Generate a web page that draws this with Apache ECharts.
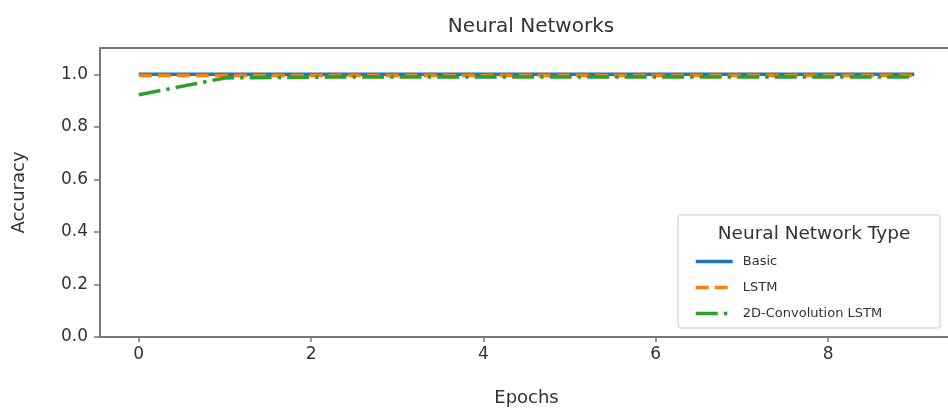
<!DOCTYPE html>
<html>
<head>
<meta charset="utf-8">
<script src="https://cdn.jsdelivr.net/npm/echarts@6/dist/echarts.min.js"></script>
<style>
  html, body { margin: 0; padding: 0; background: #fff; }
  #chart { width: 948px; height: 416px; }
</style>
</head>
<body>
<div id="chart"></div>
<script>
// data
const epochs = [0, 1, 2, 3, 4, 5, 6, 7, 8, 9];
const basicAcc = [1.0, 1.0, 1.0, 1.0, 1.0, 1.0, 1.0, 1.0, 1.0, 1.0];
const lstmAcc = [0.995, 0.995, 0.995, 0.995, 0.995, 0.995, 0.995, 0.995, 0.995, 0.995];
const convLstmAcc = [0.922, 0.986, 0.989, 0.99, 0.99, 0.99, 0.99, 0.99, 0.99, 0.99];
const xTicks = [0, 2, 4, 6, 8];
const yTicks = [0, 0.2, 0.4, 0.6, 0.8, 1.0];

const font = "DejaVu Sans";
const axisColor = "#777";
const textColor = "#333";

const chart = echarts.init(document.getElementById("chart"));

function toPairs(ys) {
  return epochs.map((x, i) => [x, ys[i]]);
}

const option = {
  animation: false,
  backgroundColor: "#fff",
  title: [
    {
      text: "Neural Networks",
      left: 526,
      top: 12,
      textAlign: "center",
      textStyle: { fontFamily: font, fontSize: 20, fontWeight: "normal", color: textColor },
    },
    {
      text: "Neural Network Type",
      left: 809,
      top: 220,
      textAlign: "center",
      textStyle: { fontFamily: font, fontSize: 18.5, fontWeight: "normal", color: textColor },
    },
  ],
  graphic: [
    {
      type: "rect",
      shape: { x: 678, y: 215, width: 262, height: 113, r: 3 },
      style: { fill: "rgba(255,255,255,0.85)", stroke: "#ddd", lineWidth: 1.5 },
      z: 5,
    },
  ],
  legend: {
    orient: "vertical",
    left: 689,
    top: 250,
    itemGap: 13,
    itemWidth: 37,
    itemHeight: 14,
    z: 10,
    itemStyle: { opacity: 0 },
    lineStyle: { width: 3.5 },
    textStyle: { fontFamily: font, fontSize: 13, color: textColor, padding: [0, 0, 0, 5] },
    data: ["Basic", "LSTM", "2D-Convolution LSTM"],
  },
  grid: {
    left: 100, top: 48, width: 853, bottom: 79,
    outerBoundsMode: "none",
    show: false,
  },
  xAxis: [
    {
      type: "value",
      min: -0.45,
      max: 9.45,
      name: "Epochs",
      nameLocation: "middle",
      nameGap: 52,
      nameTextStyle: { fontFamily: font, fontSize: 18, color: textColor },
      axisLine: { show: true, onZero: false, lineStyle: { color: axisColor, width: 2 } },
      axisTick: { show: true, length: 5, lineStyle: { color: axisColor, width: 1.5 }, customValues: xTicks },
      axisLabel: { fontFamily: font, fontSize: 17, color: textColor, margin: 9, customValues: xTicks },
      splitLine: { show: false },
    },
    {
      // top spine only
      type: "value",
      position: "top",
      min: -0.45,
      max: 9.45,
      axisLine: { show: true, onZero: false, lineStyle: { color: axisColor, width: 2 } },
      axisTick: { show: false },
      axisLabel: { show: false },
      splitLine: { show: false },
    },
  ],
  yAxis: {
    type: "value",
    min: 0,
    max: 1.1,
    name: "Accuracy",
    nameLocation: "middle",
    nameGap: 72,
    nameTextStyle: { fontFamily: font, fontSize: 18, color: textColor },
    axisLine: { show: true, onZero: false, lineStyle: { color: axisColor, width: 2 } },
    axisTick: { show: true, length: 6, lineStyle: { color: axisColor, width: 1.5 }, customValues: yTicks },
    axisLabel: {
      fontFamily: font, fontSize: 17, color: textColor, margin: 12,
      customValues: yTicks,
      formatter: (v) => v.toFixed(1),
    },
    splitLine: { show: false },
  },
  series: [
    {
      name: "Basic",
      type: "line",
      data: toPairs(basicAcc),
      showSymbol: false,
      symbol: "none",
      lineStyle: { color: "#1f77b4", width: 3.5 },
      itemStyle: { color: "#1f77b4" },
    },
    {
      name: "LSTM",
      type: "line",
      data: toPairs(lstmAcc),
      showSymbol: false,
      symbol: "none",
      lineStyle: { color: "#ff7f0e", width: 3.5, type: [13, 6] },
      itemStyle: { color: "#ff7f0e" },
    },
    {
      name: "2D-Convolution LSTM",
      type: "line",
      data: toPairs(convLstmAcc),
      showSymbol: false,
      symbol: "none",
      lineStyle: { color: "#2ca02c", width: 3.5, type: [22, 6, 3.5, 6] },
      itemStyle: { color: "#2ca02c" },
    },
  ],
};

chart.setOption(option);
</script>
</body>
</html>
